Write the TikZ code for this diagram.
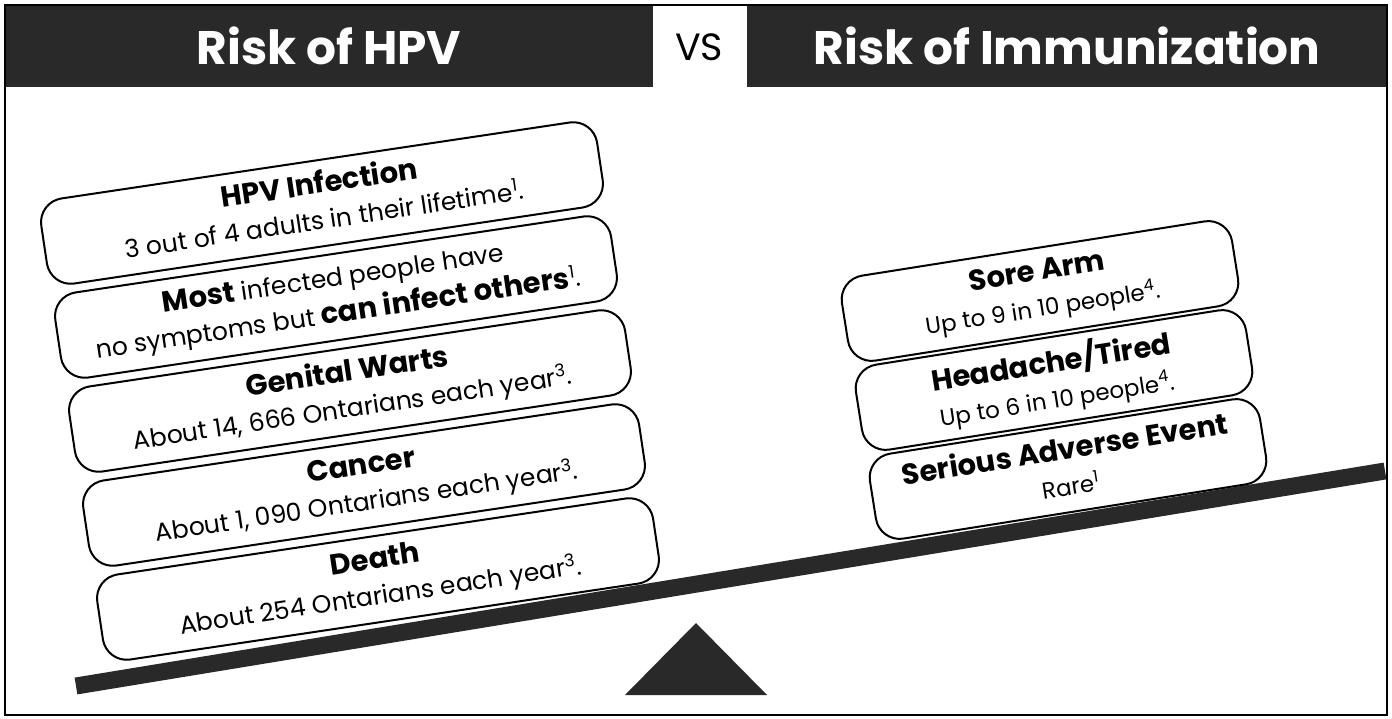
\documentclass[tikz,border=0pt]{standalone}
\usepackage{fontspec}
\setmainfont{Poppins}
\newcommand\ttlf{\bfseries\fontsize{29}{36}\selectfont}
\newcommand\subf{\mdseries\fontsize{25}{36}\selectfont}
\newcommand\rsubf{\mdseries\fontsize{23}{36}\selectfont}
\newcommand\tstrut{\rule{0pt}{22pt}}
\newcommand\sstrut{\rule[-7pt]{0pt}{7pt}}
\tikzset{
  hdr/.style={fill=black!84},
  hdrtxt/.style={text=white, inner sep=0pt, font=\bfseries\fontsize{47}{50}\selectfont},
  lbox/.style={draw, line width=2pt, rounded corners=24pt, minimum width=562pt, minimum height=86pt,
               fill=white, inner sep=0pt, align=center, rotate=8.5, font=\fontsize{25}{36}\selectfont},
  rbox/.style={lbox, minimum width=395pt, minimum height=86pt, rotate=0.5},
}
\begin{document}
\begin{tikzpicture}[x=1pt,y=-1pt]
\useasboundingbox (0,0) rectangle (1392,719);
\fill[white] (0,0) rectangle (1392,719);
% header
\fill[hdr] (5,5) rectangle (653,87);
\fill[hdr] (747,5) rectangle (1387,87);
\draw[line width=1.5pt] (5,5) rectangle (1387,715);
\node[hdrtxt] (h1) at (329,46) {Risk of HPV};
\node[hdrtxt] (h2) at (1067,46) {Risk of Immunization};
\node[inner sep=0pt, font=\fontsize{38}{40}\selectfont] (vs) at (699,47) {VS};
% fulcrum and beam
\coordinate (bl) at (76,686);
\coordinate (br) at (1385,471);
\draw[line width=17pt, draw=black!84] (bl) -- (br);
\fill[hdr] (625,695) -- (696,623) -- (767,695) -- cycle;
% left boxes
\node[lbox] (l1) at (322,203) {\tstrut\ttlf HPV Infection\\\subf 3 out of 4 adults in their lifetime\textsuperscript{1}.\sstrut};
\node[lbox] (l2) at (336,297) {\tstrut{\ttlf Most} infected people have\\\subf no symptoms but {\ttlf can infect others}\textsuperscript{1}.\sstrut};
\node[lbox] (l3) at (350,391) {\tstrut\ttlf Genital Warts\\\subf About 14, 666 Ontarians each year\textsuperscript{3}.\sstrut};
\node[lbox] (l4) at (364,485) {\tstrut\ttlf Cancer\\\subf About 1, 090 Ontarians each year\textsuperscript{3}.\sstrut};
\node[lbox] (l5) at (378,579) {\tstrut\ttlf Death\\\subf About 254 Ontarians each year\textsuperscript{3}.\sstrut};
% right boxes
\node[rbox] (r1) at (1040,291) {\tstrut\ttlf Sore Arm\\\rsubf Up to 9 in 10 people\textsuperscript{4}.\sstrut};
\node[rbox] (r2) at (1054,380) {\tstrut\ttlf Headache/Tired\\\rsubf Up to 6 in 10 people\textsuperscript{4}.\sstrut};
\node[rbox] (r3) at (1068,469) {\tstrut\ttlf Serious Adverse Event\\\rsubf Rare\textsuperscript{1}\sstrut};
\end{tikzpicture}
\end{document}
